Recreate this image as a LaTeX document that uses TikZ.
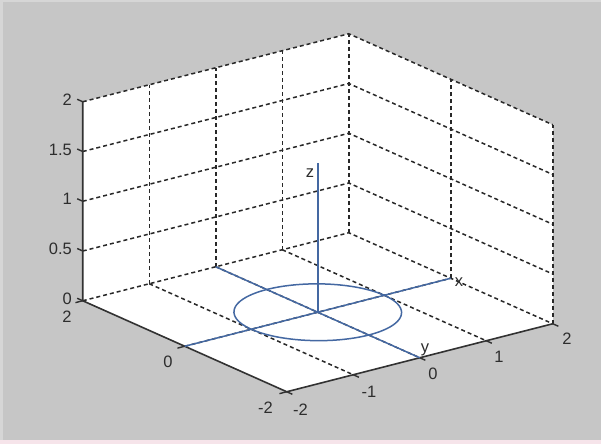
\documentclass[tikz,border=0pt]{standalone}
\usepackage{fontspec}
\setmainfont{Liberation Sans}
\definecolor{bgc}{RGB}{198,198,198}
\definecolor{bgtop}{RGB}{214,214,214}
\definecolor{bgpink}{RGB}{246,228,234}
\definecolor{gridc}{RGB}{40,40,40}
\definecolor{axc}{RGB}{50,50,50}
\definecolor{plotc}{RGB}{68,104,162}
\definecolor{txtc}{RGB}{45,45,45}
\begin{document}
\begin{tikzpicture}[x=1pt,y=-1pt,
  gridline/.style={draw=gridc, line width=1.5pt, dash pattern=on 4pt off 3pt},
  axisline/.style={draw=axc, line width=1.6pt},
  tickmark/.style={draw=axc, line width=1.4pt},
  curve/.style={draw=plotc, line width=1.5pt},
  lab/.style={text=txtc, font=\fontsize{16.5}{19}\selectfont, inner sep=0pt},
]
\useasboundingbox (0,0) rectangle (601,444);
\fill[bgc] (0,0) rectangle (601,444);
\fill[bgtop] (0,0) rectangle (601,2);
\fill[bgtop] (0,0) rectangle (3,444);
\fill[bgpink] (0,439.5) rectangle (601,444);

\begin{scope}[shift={(317.75pt,-312.25pt)}, x={(66.5pt,17pt)}, y={(-51pt,22.75pt)}, z={(0pt,99.5pt)}]
  % named corners
  \coordinate (c0) at (-2,2,0);
  \coordinate (c1) at (-2,2,2);
  \coordinate (c2) at (2,2,2);
  \coordinate (c3) at (2,-2,2);
  \coordinate (c4) at (2,-2,0);
  \coordinate (c5) at (-2,-2,0);
  \coordinate (o) at (0,0,0);
  \fill[white] (c0) -- (c1) -- (c2) -- (c3) -- (c4) -- (c5) -- cycle;
  % grid on back-left wall (y=2)
  \foreach \xx in {-1,0,1,2} \draw[gridline] (\xx,2,0) -- (\xx,2,2);
  % grid on right wall (x=2)
  \foreach \yy in {0,-2} \draw[gridline] (2,\yy,0) -- (2,\yy,2);
  % horizontal grid on both walls
  \foreach \zz in {0,0.5,1,1.5,2} \draw[gridline] (-2,2,\zz) -- (2,2,\zz) -- (2,-2,\zz);
  % floor grid
  \foreach \xx in {-1,0,1} \draw[gridline] (\xx,2,0) -- (\xx,-2,0);
  \draw[gridline] (-2,0,0) -- (2,0,0);
  % solid axes
  \draw[axisline] (c1) -- (c0) -- (c5) -- (c4);
  % ticks
  \foreach \zz in {0,0.5,1,1.5,2} \draw[tickmark] (-2,2,\zz) -- (-2,2.11,\zz);
  \foreach \yy in {-2,0,2} \draw[tickmark] (-2,\yy,0) -- (-2.11,\yy,0);
  \foreach \xx in {-2,-1,0,1,2} \draw[tickmark] (\xx,-2,0) -- (\xx,-2.11,0);
  % plotted lines
  \coordinate (xa) at (-2,0,0);
  \coordinate (xb) at (2,0,0);
  \coordinate (ya) at (0,2,0);
  \coordinate (yb) at (0,-2,0);
  \coordinate (zb) at (0,0,1.5);
  \draw[curve] plot[domain=0:360, samples=91, smooth, variable=\t] ({cos(\t)},{sin(\t)},0) -- cycle;
  \draw[curve] (xa) -- (xb);
  \draw[curve] (ya) -- (yb);
  \draw[curve] (o) -- (zb);
\end{scope}

% z tick labels
\node[lab, anchor=east] (z0) at (72,298.5) {0};
\node[lab, anchor=east] (z05) at (72,249) {0.5};
\node[lab, anchor=east] (z1) at (72,199) {1};
\node[lab, anchor=east] (z15) at (72,149.5) {1.5};
\node[lab, anchor=east] (z2) at (72,100) {2};
% y tick labels
\node[lab] (y2) at (67,317) {2};
\node[lab] (y0) at (168,362) {0};
\node[lab] (ym2) at (265.5,408) {-2};
% x tick labels
\node[lab] (xm2) at (300.5,409.5) {-2};
\node[lab] (xm1) at (369,392) {-1};
\node[lab] (x0) at (433,374) {0};
\node[lab] (x1) at (499,357) {1};
\node[lab] (x2) at (567,339) {2};
% curve labels
\node[lab] (lx) at (459,282) {x};
\node[lab] (ly) at (425,350) {y};
\node[lab] (lz) at (310,173) {z};
\end{tikzpicture}
\end{document}
